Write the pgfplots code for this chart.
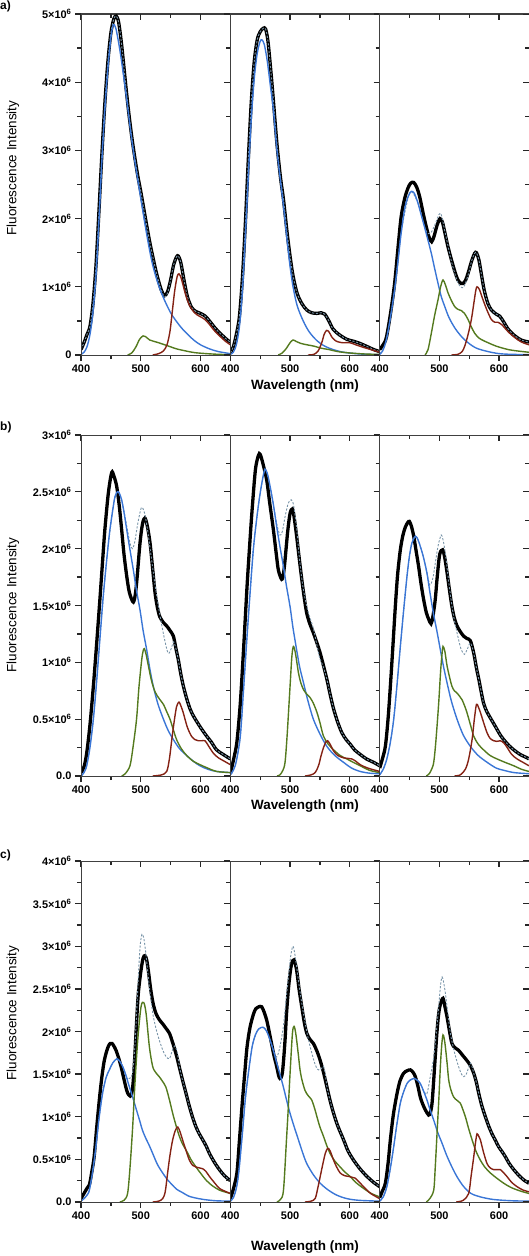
\documentclass[border=0pt]{standalone}
\usepackage{fontspec}
\setmainfont{Liberation Sans}
\usepackage{pgfplots}
\pgfplotsset{compat=1.18}
\definecolor{cblue}{RGB}{58,118,214}
\definecolor{cgreen}{RGB}{84,122,30}
\definecolor{cred}{RGB}{132,34,20}
\definecolor{cdash}{RGB}{120,148,168}
\pgfplotsset{
  base/.style={scale only axis, width=149.33bp, height=341bp, anchor=north west,
    xmin=400, xmax=650, ymin=0, xtick={400,500,600}, minor x tick num=1,
    major tick length=6bp, minor tick length=4bp,
    axis line style={line width=1bp, black!75},
    every tick/.style={line width=1.3bp, black!85},
    tick label style={font=\fontsize{11}{12}\selectfont\bfseries}},
  main/.style={base, xtick pos=left, ytick pos=left, tick align=outside, xticklabels={400,500,600}},
  over/.style={base, xtick pos=right, tick align=inside, xticklabels={}, yticklabels={}},
  rowa/.style={ymax=5, ytick={0,1,2,3,4,5}, minor y tick num=1},
  rowb/.style={ymax=3, ytick={0,0.5,1,1.5,2,2.5,3}, minor y tick num=1},
  rowc/.style={ymax=4, ytick={0,0.5,1,1.5,2,2.5,3,3.5,4}, minor y tick num=1},
  noy/.style={ytick=\empty, minor y tick num=0},
  kk/.style={black, line width=3.3bp, smooth},
  ds/.style={cdash, line width=0.9bp, dash pattern=on 2.2bp off 1.6bp, smooth},
  bl/.style={cblue, line width=1.4bp, smooth},
  gr/.style={cgreen, line width=1.4bp, smooth},
  rd/.style={cred, line width=1.4bp, smooth},
}
\newcommand{\sx}{\textsuperscript{6}}
\begin{document}
\begin{tikzpicture}
\path[use as bounding box] (0,0) rectangle (529bp,-1256bp);
% ================= ROW A =================
\begin{axis}[main, rowa, at={(81bp,-14bp)},
  yticklabels={0,1×10\sx,2×10\sx,3×10\sx,4×10\sx,5×10\sx}]
\addplot[kk] coordinates {(400,0.08) (405,0.18) (410,0.3) (415,0.42) (420,0.75) (425,1.3) (430,2.1) (435,2.95) (440,3.7) (445,4.3) (450,4.72) (455,4.93) (459,4.97) (463,4.88) (468,4.55) (475,3.95) (480,3.55) (485,3.2) (490,2.9) (495,2.63) (500,2.4) (505,2.15) (510,1.9) (515,1.66) (520,1.45) (525,1.25) (530,1.08) (535,0.94) (540,0.87) (545,0.93) (550,1.1) (555,1.32) (560,1.44) (563,1.45) (567,1.36) (572,1.12) (578,0.86) (585,0.7) (592,0.64) (600,0.61) (608,0.57) (615,0.5) (625,0.39) (635,0.3) (645,0.22) (650,0.19)};
\addplot[ds] coordinates {(400,0.08) (405,0.18) (410,0.3) (415,0.42) (420,0.75) (425,1.3) (430,2.1) (435,2.95) (440,3.7) (445,4.3) (450,4.72) (455,4.93) (459,4.97) (463,4.88) (468,4.55) (475,3.95) (480,3.55) (485,3.2) (490,2.9) (495,2.63) (500,2.4) (505,2.15) (510,1.9) (515,1.66) (520,1.45) (525,1.25) (530,1.08) (535,0.94) (540,0.85) (545,0.91) (550,1.1) (555,1.32) (560,1.44) (563,1.45) (567,1.36) (572,1.12) (578,0.86) (585,0.7) (592,0.64) (600,0.61) (608,0.57) (615,0.5) (625,0.39) (635,0.3) (645,0.22) (650,0.19)};
\addplot[bl] coordinates {(400,0.01) (405,0.04) (410,0.12) (415,0.3) (420,0.62) (425,1.15) (430,1.95) (435,2.85) (440,3.6) (445,4.2) (450,4.65) (454,4.84) (458,4.8) (463,4.58) (468,4.3) (475,3.85) (480,3.5) (485,3.15) (490,2.85) (495,2.57) (500,2.3) (505,2.03) (510,1.77) (515,1.53) (520,1.32) (526,1.13) (532,0.97) (540,0.8) (550,0.62) (560,0.49) (570,0.38) (580,0.29) (590,0.21) (600,0.15) (615,0.09) (630,0.05) (650,0.02)};
\addplot[gr] coordinates {(478,0) (485,0.03) (492,0.12) (498,0.23) (504,0.28) (508,0.27) (515,0.22) (522,0.2) (530,0.18) (540,0.15) (550,0.12) (560,0.09) (575,0.06) (590,0.035) (610,0.02) (630,0.01) (650,0.005)};
\addplot[rd] coordinates {(520,0) (530,0.02) (538,0.06) (544,0.15) (549,0.35) (553,0.65) (557,0.95) (561,1.15) (564,1.19) (568,1.12) (574,0.92) (581,0.74) (590,0.62) (598,0.57) (606,0.53) (614,0.46) (622,0.37) (632,0.28) (642,0.2) (650,0.15)};
\end{axis}
\begin{axis}[over, rowa, noy, at={(81bp,-14bp)}]\end{axis}
\begin{axis}[main, rowa, at={(230.33bp,-14bp)}, yticklabels={}]
\addplot[kk] coordinates {(400,0.03) (405,0.12) (410,0.3) (415,0.55) (420,1.1) (425,1.9) (430,2.85) (435,3.7) (440,4.3) (445,4.62) (450,4.74) (455,4.79) (459,4.78) (463,4.6) (468,4.15) (472,3.74) (478,3.1) (484,2.6) (489,2.28) (495,1.8) (500,1.45) (505,1.16) (512,0.9) (520,0.75) (528,0.66) (536,0.62) (545,0.61) (552,0.62) (558,0.6) (565,0.5) (572,0.38) (582,0.3) (595,0.23) (607,0.2) (617,0.17) (630,0.12) (640,0.08) (650,0.05)};
\addplot[ds] coordinates {(400,0.03) (405,0.12) (410,0.3) (415,0.55) (420,1.1) (425,1.9) (430,2.85) (435,3.7) (440,4.3) (445,4.62) (450,4.74) (455,4.79) (459,4.78) (463,4.6) (468,4.15) (472,3.74) (478,3.1) (484,2.6) (489,2.28) (495,1.8) (500,1.45) (505,1.16) (512,0.9) (520,0.75) (528,0.66) (536,0.62) (545,0.61) (552,0.62) (558,0.6) (565,0.5) (572,0.38) (582,0.3) (595,0.23) (607,0.2) (617,0.17) (630,0.12) (640,0.08) (650,0.05)};
\addplot[bl] coordinates {(400,0.01) (405,0.04) (410,0.15) (415,0.4) (420,0.9) (425,1.7) (430,2.6) (435,3.45) (440,4.05) (445,4.42) (450,4.6) (453,4.62) (457,4.55) (462,4.3) (467,3.95) (472,3.6) (478,3.0) (484,2.55) (489,2.18) (495,1.68) (500,1.3) (505,1.0) (512,0.72) (522,0.5) (532,0.34) (545,0.21) (558,0.13) (572,0.08) (590,0.04) (617,0.015) (650,0.005)};
\addplot[gr] coordinates {(480,0) (487,0.03) (494,0.1) (500,0.18) (505,0.22) (510,0.2) (518,0.17) (528,0.15) (540,0.13) (552,0.1) (565,0.08) (580,0.05) (600,0.03) (625,0.015) (650,0.008)};
\addplot[rd] coordinates {(530,0) (540,0.01) (547,0.06) (553,0.18) (557,0.3) (561,0.36) (565,0.34) (571,0.25) (578,0.2) (588,0.18) (600,0.18) (610,0.15) (620,0.12) (635,0.08) (650,0.04)};
\end{axis}
\begin{axis}[over, rowa, noy, at={(230.33bp,-14bp)}]\end{axis}
\begin{axis}[main, rowa, at={(379.67bp,-14bp)}, yticklabels={}]
\addplot[kk] coordinates {(400,0.08) (405,0.14) (411,0.25) (418,0.6) (425,1.05) (431,1.6) (436,2.03) (442,2.3) (447.5,2.45) (452,2.52) (457,2.53) (462,2.46) (467,2.32) (473,2.07) (478,1.88) (483,1.72) (487,1.66) (491,1.74) (496,1.9) (501,2.0) (505,1.95) (509,1.8) (514,1.6) (520,1.4) (526,1.22) (531,1.1) (536,1.05) (540,1.05) (544,1.1) (548,1.2) (554,1.38) (559,1.49) (562,1.5) (566,1.4) (570,1.2) (575,0.95) (581,0.76) (587,0.66) (595,0.6) (601,0.57) (608,0.48) (615,0.38) (625,0.29) (637,0.22) (650,0.19)};
\addplot[ds] coordinates {(400,0.02) (411,0.2) (425,0.95) (436,1.79) (447.5,2.3) (453,2.40) (464,2.23) (475,1.88) (481,1.78) (486.5,1.8) (492,1.9) (501.6,2.08) (509,1.82) (520,1.38) (531,1.06) (540,0.99) (548,1.17) (554,1.38) (559,1.49) (562,1.5) (566,1.4) (570,1.2) (575,0.95) (581,0.76) (587,0.66) (595,0.6) (601,0.57) (608,0.48) (615,0.38) (625,0.29) (637,0.22) (650,0.19)};
\addplot[bl] coordinates {(400,0.01) (405,0.06) (411,0.22) (418,0.55) (425,0.96) (431,1.4) (436,1.79) (442,2.15) (447.5,2.32) (453,2.40) (458,2.37) (464,2.23) (470,2.04) (475,1.88) (481,1.68) (486.5,1.49) (492,1.27) (497.7,1.05) (503,0.86) (509,0.71) (516,0.55) (525.6,0.4) (536,0.28) (548,0.18) (562,0.1) (581.5,0.05) (600,0.02) (620,0.01) (650,0.005)};
\addplot[gr] coordinates {(476,0) (481,0.08) (486.5,0.32) (492,0.58) (497.7,0.81) (502,1.0) (506,1.10) (510,1.03) (514.5,0.91) (520,0.8) (525.6,0.71) (531,0.67) (537,0.65) (542,0.61) (548,0.52) (553,0.42) (559,0.32) (566,0.25) (574,0.21) (581.5,0.18) (595,0.13) (615,0.08) (630,0.06) (650,0.04)};
\addplot[rd] coordinates {(520,0) (531,0.01) (538,0.05) (542.4,0.13) (548,0.3) (553.5,0.52) (558,0.78) (561,0.95) (563,1.0) (567,0.96) (573,0.81) (580,0.65) (587,0.52) (593,0.48) (598,0.48) (605,0.44) (612,0.37) (620,0.3) (631.7,0.22) (640,0.18) (650,0.15)};
\end{axis}
\begin{axis}[over, rowa, at={(379.67bp,-14bp)}, ytick pos=right]\end{axis}
% ================= ROW B =================
\begin{axis}[main, rowb, at={(81bp,-435bp)},
  yticklabels={0.0,0.5×10\sx,1×10\sx,1.5×10\sx,2×10\sx,2.5×10\sx,3×10\sx}]
\addplot[kk] coordinates {(400,0.03) (405,0.08) (409.5,0.2) (415,0.45) (420.7,0.79) (426,1.15) (432,1.58) (436,1.88) (440,2.17) (445.8,2.49) (451.4,2.67) (455,2.64) (459.7,2.55) (464,2.38) (468,2.17) (472,1.95) (476.5,1.76) (480,1.64) (483,1.58) (487.7,1.53) (491,1.6) (494,1.75) (498.8,2.05) (503,2.22) (507,2.27) (511,2.2) (515.6,2.05) (520,1.82) (524,1.61) (528,1.48) (532,1.40) (538,1.35) (543.5,1.32) (549,1.28) (554.7,1.23) (559,1.12) (563,1.02) (567,0.9) (571.4,0.79) (577,0.68) (582.6,0.59) (588,0.53) (593.7,0.48) (601,0.42) (610.5,0.35) (618,0.3) (627,0.23) (638,0.19) (650,0.15)};
\addplot[ds] coordinates {(400,0.0) (409.5,0.09) (420.7,0.5) (432,1.23) (443,1.9) (454,2.37) (460.9,2.5) (468,2.43) (476.5,2.2) (482,2.05) (486,2.0) (490,2.06) (495,2.22) (501,2.36) (506,2.32) (511,2.18) (517,1.95) (524,1.68) (532,1.42) (540,1.2) (546,1.08) (551,1.12) (555,1.18) (559,1.12) (563,1.02) (567,0.9) (571.4,0.79) (577,0.68) (582.6,0.59) (588,0.53) (593.7,0.48) (601,0.42) (610.5,0.35) (618,0.3) (627,0.23) (638,0.19) (650,0.15)};
\addplot[bl] coordinates {(400,0.0) (405,0.03) (409.5,0.09) (415,0.25) (420.7,0.5) (426,0.82) (432,1.23) (437,1.57) (443,1.9) (448,2.15) (454,2.37) (457,2.46) (460.9,2.5) (464,2.49) (468,2.43) (472,2.32) (476.5,2.17) (482,1.99) (487.7,1.81) (493,1.63) (498.8,1.46) (504,1.28) (510,1.11) (515,0.95) (521,0.79) (529,0.63) (538,0.5) (546,0.4) (554.7,0.32) (565,0.24) (577,0.18) (588,0.13) (599,0.09) (612,0.06) (627,0.04) (650,0.03)};
\addplot[gr] coordinates {(468,0) (474,0.02) (482,0.09) (487,0.25) (493,0.5) (497,0.78) (501.6,1.02) (504,1.1) (506,1.12) (509,1.07) (512.8,0.97) (518,0.84) (524,0.74) (531,0.68) (538,0.63) (544,0.56) (549,0.5) (555,0.4) (560,0.32) (568,0.24) (577,0.18) (588,0.13) (599,0.1) (612,0.07) (627,0.04) (650,0.03)};
\addplot[rd] coordinates {(520,0) (535,0.01) (543.5,0.04) (548,0.15) (552,0.32) (556,0.48) (560,0.61) (564,0.65) (567,0.62) (571,0.56) (578,0.43) (585,0.35) (591,0.32) (596.5,0.31) (602,0.31) (607.7,0.31) (614,0.26) (621.7,0.2) (630,0.16) (640,0.13) (650,0.1)};
\end{axis}
\begin{axis}[over, rowb, noy, at={(81bp,-435bp)}]\end{axis}
\begin{axis}[main, rowb, at={(230.33bp,-435bp)}, yticklabels={}]
\addplot[kk] coordinates {(400,0.02) (405.6,0.15) (411,0.3) (416.7,0.64) (422,1.1) (428,1.67) (432,2.0) (436,2.31) (441.9,2.69) (447,2.82) (450,2.83) (455,2.74) (461,2.6) (466,2.4) (472,2.17) (477,1.95) (480.5,1.81) (486,1.73) (489,1.78) (491.6,1.9) (496,2.15) (500,2.31) (504,2.35) (507,2.27) (511,2.11) (515,1.93) (519.6,1.73) (524,1.56) (528,1.43) (533,1.34) (539,1.26) (545,1.17) (550.5,1.08) (556,0.97) (561.7,0.85) (567,0.72) (572.9,0.59) (580,0.47) (586.8,0.38) (594,0.32) (600.6,0.28) (608,0.23) (617.4,0.19) (628,0.15) (640,0.12) (650,0.09)};
\addplot[ds] coordinates {(400,0.01) (405,0.05) (410,0.13) (416.7,0.35) (422,0.75) (428,1.23) (434,1.68) (439,2.02) (445,2.3) (450,2.49) (455,2.64) (458,2.7) (462,2.66) (466.5,2.55) (472,2.39) (477.7,2.22) (483,2.12) (487,2.15) (491.6,2.28) (497,2.4) (502,2.43) (506,2.38) (511,2.18) (516,1.9) (522,1.65) (530,1.45) (539,1.3) (545,1.15) (550,1.03) (555,0.97) (561.7,0.85) (567,0.72) (572.9,0.59) (580,0.47) (586.8,0.38) (594,0.32) (600.6,0.28) (608,0.23) (617.4,0.19) (628,0.15) (640,0.12) (650,0.09)};
\addplot[bl] coordinates {(400,0.01) (405,0.05) (410,0.13) (416.7,0.35) (422,0.75) (428,1.23) (434,1.68) (439,2.02) (445,2.3) (450,2.49) (455,2.64) (458,2.7) (462,2.66) (466.5,2.55) (472,2.39) (477.7,2.19) (483,2.02) (489,1.84) (494,1.67) (500,1.49) (505,1.3) (511,1.11) (516,0.96) (522.5,0.82) (530,0.66) (539,0.5) (550,0.37) (561.7,0.26) (575,0.18) (589.6,0.12) (603,0.07) (617.4,0.04) (633,0.025) (650,0.02)};
\addplot[gr] coordinates {(478,0) (483,0.01) (488,0.05) (491.6,0.12) (495,0.35) (500,0.79) (503,1.05) (505.6,1.14) (509,1.08) (514,0.91) (518,0.82) (522.5,0.76) (528,0.72) (533.5,0.69) (539,0.64) (545,0.56) (550,0.47) (556,0.35) (564,0.28) (572.9,0.23) (584,0.18) (595,0.15) (606,0.12) (617.4,0.09) (633,0.05) (650,0.03)};
\addplot[rd] coordinates {(525,0) (535,0.01) (542,0.03) (547.6,0.09) (552,0.18) (556,0.25) (560,0.3) (563,0.31) (567,0.28) (572.9,0.22) (580,0.18) (589.6,0.16) (597,0.155) (603.5,0.15) (610,0.13) (617.4,0.1) (630,0.07) (650,0.04)};
\end{axis}
\begin{axis}[over, rowb, noy, at={(230.33bp,-435bp)}]\end{axis}
\begin{axis}[main, rowb, at={(379.67bp,-435bp)}, yticklabels={}]
\addplot[kk] coordinates {(400,0.07) (404,0.14) (409.5,0.26) (414,0.5) (417.9,0.79) (422,1.13) (426.2,1.49) (430,1.77) (434.6,1.99) (439,2.12) (443,2.19) (447,2.23) (449.7,2.24) (453,2.2) (457,2.11) (461,1.98) (465.3,1.84) (469,1.7) (473.7,1.55) (478,1.44) (482,1.38) (486,1.34) (489,1.4) (493,1.55) (496.5,1.76) (500.5,1.95) (505.5,1.99) (509,1.92) (512.8,1.79) (517,1.63) (521,1.49) (525,1.39) (529.5,1.32) (535,1.27) (540.7,1.23) (546,1.21) (551.9,1.19) (557.5,1.08) (562,0.95) (566,0.85) (570,0.74) (574,0.64) (579,0.57) (585.4,0.51) (591,0.46) (596.5,0.41) (602,0.36) (607.7,0.32) (616,0.27) (624.5,0.23) (635,0.19) (646.8,0.16) (650,0.15)};
\addplot[ds] coordinates {(400,0.01) (406,0.06) (412,0.15) (418,0.3) (423.5,0.5) (429,0.8) (434.6,1.14) (440,1.45) (445.8,1.76) (450,1.94) (454,2.05) (459.7,2.11) (464,2.08) (468,2.02) (473,1.93) (479,1.79) (484,1.68) (489,1.74) (493,1.87) (498,2.03) (503,2.12) (506,2.08) (510,1.96) (514,1.78) (518,1.61) (523,1.43) (529.5,1.26) (536,1.12) (541.8,1.07) (547,1.12) (552,1.17) (557.5,1.08) (562,0.95) (566,0.85) (570,0.74) (574,0.64) (579,0.57) (585.4,0.51) (591,0.46) (596.5,0.41) (602,0.36) (607.7,0.32) (616,0.27) (624.5,0.23) (635,0.19) (646.8,0.16) (650,0.15)};
\addplot[bl] coordinates {(400,0.01) (406,0.06) (412,0.15) (418,0.3) (423.5,0.5) (429,0.8) (434.6,1.14) (440,1.45) (445.8,1.76) (450,1.94) (454,2.05) (459.7,2.11) (464,2.08) (468,2.02) (473,1.93) (479,1.79) (484,1.62) (490,1.43) (496,1.27) (501.6,1.11) (507,0.96) (512.8,0.82) (520,0.66) (529.5,0.5) (540,0.36) (551.9,0.26) (565,0.18) (580,0.12) (595,0.07) (607.7,0.05) (625,0.03) (650,0.02)};
\addplot[gr] coordinates {(478,0) (483,0.02) (487,0.06) (490.5,0.12) (494,0.3) (498.8,0.64) (502,0.92) (504.5,1.08) (506,1.14) (509,1.1) (512.8,0.97) (517,0.87) (521,0.79) (525,0.75) (529.5,0.73) (534,0.7) (538,0.67) (542,0.62) (546,0.56) (552,0.45) (557.5,0.35) (565,0.28) (574,0.23) (585,0.18) (596.5,0.15) (610,0.12) (624.5,0.09) (637,0.06) (650,0.04)};
\addplot[rd] coordinates {(525,0) (535,0.01) (543.5,0.06) (549,0.15) (554.7,0.32) (558.5,0.5) (562,0.63) (565,0.61) (568.6,0.56) (574,0.47) (579.8,0.38) (585,0.33) (591,0.31) (596,0.305) (602,0.31) (608,0.29) (613.5,0.25) (621,0.19) (630,0.15) (640,0.12) (650,0.09)};
\end{axis}
\begin{axis}[over, rowb, at={(379.67bp,-435bp)}, ytick pos=right]\end{axis}
% ================= ROW C =================
\begin{axis}[main, rowc, at={(81bp,-861bp)},
  yticklabels={0.0,0.5×10\sx,1×10\sx,1.5×10\sx,2×10\sx,2.5×10\sx,3×10\sx,3.5×10\sx,4×10\sx}]
\addplot[kk] coordinates {(400,0.04) (405,0.1) (410,0.16) (414,0.2) (418,0.35) (422,0.53) (426,0.85) (430.7,1.2) (435,1.47) (439,1.66) (443,1.77) (446,1.83) (449,1.86) (452,1.86) (455,1.83) (458.6,1.78) (463,1.69) (467,1.59) (471,1.47) (475,1.35) (478,1.28) (481,1.25) (484,1.25) (487,1.38) (490,1.7) (493,2.1) (496,2.45) (500.5,2.72) (504,2.86) (507,2.89) (510,2.84) (513,2.7) (517,2.48) (521,2.32) (525.6,2.21) (531,2.14) (536.8,2.09) (542,2.04) (548,1.98) (553,1.88) (559,1.74) (564,1.6) (570,1.43) (576,1.27) (581.5,1.12) (587,0.99) (592.6,0.88) (598,0.8) (603.8,0.73) (610,0.65) (615,0.57) (623,0.47) (631.7,0.38) (640,0.31) (650,0.25)};
\addplot[ds] coordinates {(400,0.01) (405,0.04) (410,0.08) (414,0.14) (420,0.38) (425,0.65) (430,0.97) (436,1.27) (442,1.46) (447.5,1.55) (453,1.63) (460,1.68) (465,1.65) (469.8,1.59) (475,1.49) (478,1.44) (481,1.45) (484,1.46) (487,1.55) (490,1.8) (493,2.2) (496,2.65) (499,3.0) (502,3.14) (505,3.1) (508,2.95) (511,2.75) (514.5,2.52) (520,2.22) (525,2.05) (531,1.9) (537,1.78) (542,1.71) (548,1.68) (553,1.78) (557,1.83) (561,1.76) (565,1.58) (570,1.43) (576,1.27) (581.5,1.12) (587,0.99) (592.6,0.88) (598,0.8) (603.8,0.73) (610,0.65) (615,0.57) (623,0.47) (631.7,0.38) (640,0.31) (650,0.25)};
\addplot[bl] coordinates {(400,0.01) (405,0.04) (410,0.08) (414,0.14) (420,0.38) (425,0.65) (430,0.97) (436,1.27) (442,1.46) (447.5,1.55) (453,1.63) (460,1.68) (465,1.65) (469.8,1.59) (475,1.49) (481,1.35) (486.5,1.23) (492,1.1) (498,0.96) (503,0.84) (509,0.74) (514.5,0.66) (520,0.57) (528,0.44) (536.8,0.34) (545,0.26) (553,0.2) (560,0.15) (570,0.11) (580,0.07) (590,0.05) (605,0.03) (625,0.015) (650,0.01)};
\addplot[gr] coordinates {(465,0) (472,0.02) (478,0.1) (482,0.4) (486.5,0.88) (490,1.35) (495,1.9) (500.5,2.29) (505,2.34) (509,2.21) (514.5,1.82) (520,1.59) (525,1.52) (531,1.47) (536,1.42) (542,1.35) (548,1.2) (553.5,1.04) (559,0.9) (564.7,0.77) (570,0.68) (575.9,0.61) (584,0.5) (592.6,0.41) (600,0.34) (609,0.26) (620,0.19) (631.7,0.14) (640,0.12) (650,0.1)};
\addplot[rd] coordinates {(520,0) (530,0.01) (536.8,0.04) (541,0.12) (545,0.34) (549,0.55) (553.5,0.73) (558,0.84) (562,0.88) (566,0.82) (570,0.73) (576,0.6) (581.5,0.49) (587,0.43) (592.6,0.41) (598,0.4) (603.8,0.39) (609,0.36) (615,0.3) (623,0.23) (631.7,0.16) (640,0.13) (650,0.1)};
\end{axis}
\begin{axis}[over, rowc, noy, at={(81bp,-861bp)}]\end{axis}
\begin{axis}[main, rowc, at={(230.33bp,-861bp)}, yticklabels={}]
\addplot[kk] coordinates {(400,0.04) (405,0.15) (411,0.34) (415,0.7) (419.5,1.12) (424,1.5) (428,1.82) (433,2.05) (439,2.21) (443,2.27) (447.5,2.29) (452.5,2.29) (457,2.22) (461,2.13) (465,2.0) (469,1.86) (473,1.72) (477.6,1.59) (481,1.48) (483,1.45) (485,1.46) (487,1.51) (489,1.65) (491.6,1.9) (494,2.2) (497,2.48) (500,2.68) (502.8,2.8) (506.7,2.84) (511,2.72) (515,2.5) (519.6,2.29) (524,2.1) (528,1.98) (533,1.91) (539,1.86) (545,1.77) (550.5,1.66) (556,1.52) (561.7,1.35) (567,1.19) (572.9,1.04) (580,0.89) (589.6,0.73) (597,0.6) (606.4,0.49) (617,0.39) (628.7,0.3) (640,0.23) (650,0.18)};
\addplot[ds] coordinates {(400,0.01) (405,0.05) (410,0.16) (414,0.34) (419.5,0.75) (425,1.2) (430,1.5) (436.5,1.82) (442,1.96) (447.5,2.03) (455,2.05) (461,2.0) (466.5,1.9) (472,1.78) (477.6,1.7) (483,1.82) (488.8,2.06) (493,2.35) (497,2.62) (501,2.88) (504.5,3.0) (507,2.95) (511,2.76) (516,2.5) (522.5,2.21) (530,1.93) (539,1.68) (544,1.58) (547.6,1.55) (552,1.56) (556,1.59) (559,1.5) (561.7,1.35) (567,1.19) (572.9,1.04) (580,0.89) (589.6,0.73) (597,0.6) (606.4,0.49) (617,0.39) (628.7,0.3) (640,0.23) (650,0.18)};
\addplot[bl] coordinates {(400,0.01) (405,0.05) (410,0.16) (414,0.34) (419.5,0.75) (425,1.2) (430,1.5) (436.5,1.82) (442,1.96) (447.5,2.03) (455,2.05) (461,2.0) (466.5,1.9) (472,1.78) (477.7,1.63) (483,1.5) (488.8,1.35) (494,1.2) (500,1.04) (507,0.88) (514,0.73) (521,0.58) (528,0.45) (539,0.32) (550.5,0.22) (564,0.14) (578.4,0.08) (595,0.04) (615,0.02) (650,0.01)};
\addplot[gr] coordinates {(478,0) (484,0.03) (489,0.14) (494,0.73) (497,1.1) (500,1.51) (504,1.98) (506.7,2.06) (509,2.0) (511,1.9) (514,1.72) (516.7,1.55) (520,1.43) (525,1.31) (530,1.25) (536,1.2) (541,1.1) (545,1.0) (550,0.88) (556,0.77) (561,0.67) (567,0.57) (575,0.48) (584,0.41) (592,0.35) (600.5,0.3) (610,0.23) (623,0.16) (636,0.1) (650,0.06)};
\addplot[rd] coordinates {(525,0) (535,0.01) (542,0.04) (546,0.15) (550.5,0.3) (555,0.45) (559,0.57) (563,0.63) (567,0.6) (572.9,0.49) (578,0.41) (584,0.34) (591,0.31) (598,0.3) (604,0.29) (609,0.28) (615,0.24) (623,0.18) (635,0.1) (650,0.04)};
\end{axis}
\begin{axis}[over, rowc, noy, at={(230.33bp,-861bp)}]\end{axis}
\begin{axis}[main, rowc, at={(379.67bp,-861bp)}, yticklabels={}]
\addplot[kk] coordinates {(400,0.05) (404,0.12) (409.5,0.22) (414,0.45) (417.9,0.73) (423,1.03) (429,1.27) (434,1.42) (440,1.51) (446,1.54) (451.4,1.55) (456,1.52) (459.7,1.47) (464,1.36) (468,1.23) (472,1.15) (476.5,1.08) (482,1.02) (485,1.05) (487.7,1.16) (490,1.38) (493,1.7) (496,2.0) (498.8,2.21) (502,2.33) (506,2.39) (509,2.3) (512.8,2.17) (517,2.0) (521,1.86) (526,1.81) (532,1.78) (539,1.72) (546,1.66) (552,1.6) (557.5,1.51) (562,1.4) (566,1.27) (571,1.13) (577,1.0) (582,0.9) (588,0.8) (594,0.72) (599,0.65) (605,0.59) (610.5,0.53) (617,0.45) (624.5,0.38) (632,0.32) (641,0.26) (650,0.22)};
\addplot[ds] coordinates {(400,0.01) (406,0.06) (412,0.18) (418,0.4) (423.5,0.65) (429,0.92) (434.6,1.16) (440,1.29) (445.8,1.39) (451,1.43) (458,1.45) (463,1.43) (468,1.39) (473,1.31) (479,1.27) (484,1.44) (490.5,1.7) (495,2.0) (498.8,2.29) (502,2.55) (504.5,2.64) (507,2.58) (510,2.45) (514,2.22) (518.4,1.98) (525,1.76) (532,1.59) (537,1.5) (540.7,1.47) (545,1.5) (549,1.58) (552,1.63) (555,1.58) (557.5,1.51) (562,1.4) (566,1.27) (571,1.13) (577,1.0) (582,0.9) (588,0.8) (594,0.72) (599,0.65) (605,0.59) (610.5,0.53) (617,0.45) (624.5,0.38) (632,0.32) (641,0.26) (650,0.22)};
\addplot[bl] coordinates {(400,0.01) (406,0.06) (412,0.18) (418,0.4) (423.5,0.65) (429,0.92) (434.6,1.16) (440,1.29) (445.8,1.39) (451,1.43) (458,1.45) (463,1.43) (468,1.39) (473,1.31) (479,1.2) (484,1.09) (490.5,0.96) (497,0.82) (504.4,0.69) (512,0.55) (521,0.41) (530,0.29) (540.7,0.18) (553,0.1) (568.6,0.06) (590,0.03) (620,0.015) (650,0.01)};
\addplot[gr] coordinates {(478,0) (484,0.04) (490.5,0.14) (493,0.4) (496,0.8) (499,1.2) (501.6,1.59) (504,1.85) (506,1.96) (508,1.92) (510,1.82) (513,1.62) (515.6,1.43) (519,1.32) (524,1.23) (530,1.19) (535,1.16) (539,1.09) (543.5,1.0) (549,0.86) (554.7,0.73) (561,0.6) (568.6,0.49) (576,0.41) (585.4,0.34) (596,0.28) (607.7,0.22) (620,0.17) (635,0.13) (650,0.1)};
\addplot[rd] coordinates {(528,0) (540,0.02) (549,0.1) (553,0.3) (557.5,0.53) (560.5,0.7) (563,0.8) (566,0.77) (568.6,0.73) (574,0.58) (579.8,0.45) (585,0.4) (591,0.38) (597,0.38) (602,0.38) (608,0.34) (613,0.3) (621,0.23) (630,0.18) (640,0.14) (650,0.12)};
\end{axis}
\begin{axis}[over, rowc, at={(379.67bp,-861bp)}, ytick pos=right]\end{axis}
% ================= LABELS =================
\tikzset{lab/.style={font=\fontsize{13.5}{15}\selectfont}}
\node[lab, rotate=90] at (13bp,-168bp) {Fluorescence Intensity};
\node[lab, rotate=90] at (13bp,-605bp) {Fluorescence Intensity};
\node[lab, rotate=90] at (13bp,-1013bp) {Fluorescence Intensity};
\node[lab, font=\fontsize{13.5}{15}\selectfont\bfseries] at (305bp,-386bp) {Wavelength (nm)};
\node[lab, font=\fontsize{13.5}{15}\selectfont\bfseries] at (305bp,-806bp) {Wavelength (nm)};
\node[lab, font=\fontsize{13.5}{15}\selectfont\bfseries] at (305bp,-1247bp) {Wavelength (nm)};
\node[anchor=west, inner sep=0pt, font=\fontsize{12}{13}\selectfont\bfseries] at (0bp,-6bp) {a)};
\node[anchor=west, inner sep=0pt, font=\fontsize{12}{13}\selectfont\bfseries] at (0bp,-427bp) {b)};
\node[anchor=west, inner sep=0pt, font=\fontsize{12}{13}\selectfont\bfseries] at (0bp,-855bp) {c)};
\end{tikzpicture}
\end{document}
